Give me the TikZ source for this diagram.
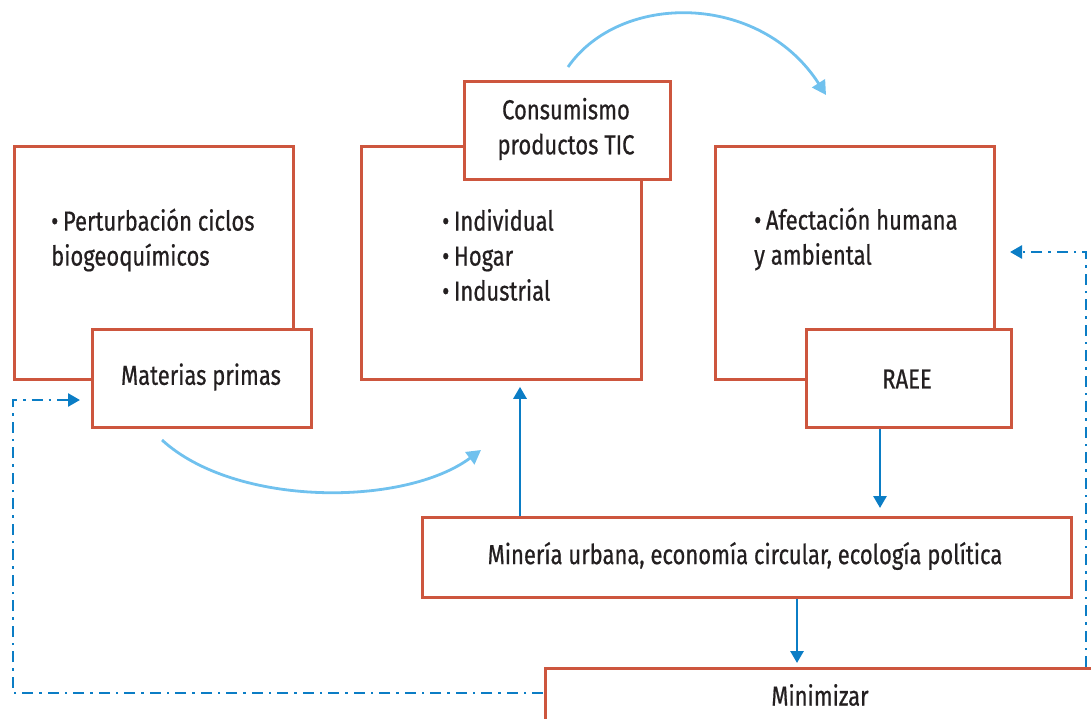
\documentclass[tikz,border=0pt]{standalone}
\usepackage{fontspec}
\setmainfont{Fira Sans}[FakeStretch=0.80,FakeBold=0.6]
\usetikzlibrary{arrows.meta}
\definecolor{boxred}{RGB}{205,86,62}
\definecolor{darkblue}{RGB}{11,125,197}
\definecolor{lightblue}{RGB}{112,193,238}
\definecolor{txt}{RGB}{35,31,32}
\tikzset{
  box/.style={draw=boxred, line width=2.8pt, fill=white, rectangle, inner sep=0pt},
  lbl/.style={text=txt, font=\fontsize{27.5}{35}\selectfont, inner sep=0pt},
  barrow/.style={draw=darkblue, line width=2.8pt, -{Triangle[length=12pt,width=13pt]}},
  larrow/.style={draw=lightblue, line width=2.8pt, -{Triangle[length=14pt,width=15pt]}},
  dd/.style={draw=darkblue, line width=2.6pt, dash pattern=on 11pt off 6pt on 2.5pt off 6pt, -{Triangle[length=12pt,width=13pt]}}
}
\begin{document}
\begin{tikzpicture}[x=1pt,y=-1pt]
\useasboundingbox (0,0) rectangle (1091,719);
\clip (0,0) rectangle (1091,719);
% big boxes
\node[box, minimum width=279pt, minimum height=233pt, anchor=north west] (b1) at (13,145) {};
\node[box, minimum width=280pt, minimum height=233pt, anchor=north west] (b2) at (360,145) {};
\node[box, minimum width=279pt, minimum height=233pt, anchor=north west] (b3) at (714,145) {};
% small boxes
\node[box, minimum width=219pt, minimum height=98pt, anchor=north west] (mp) at (91,328) {};
\node[lbl] (mpt) at (201,377) {Materias primas};
\node[box, minimum width=206pt, minimum height=98pt, anchor=north west] (cons) at (463,80) {};
\node[lbl, align=center] (const) at (566,129) {Consumismo\\productos TIC};
\node[box, minimum width=205pt, minimum height=98pt, anchor=north west] (raee) at (805,328) {};
\node[lbl] (raeet) at (907,379) {RAEE};
\node[box, minimum width=649pt, minimum height=80pt, anchor=north west] (min) at (421,516) {};
\node[lbl] (mint) at (745,556) {Minería urbana, economía circular, ecología política};
\node[box, minimum width=600pt, minimum height=120pt, anchor=north west] (minim) at (544,667) {};
\node[lbl] (minimt) at (820,695) {Minimizar};
% texts in big boxes
\node[lbl, align=left, anchor=west] (t1) at (51,240) {•\,Perturbación ciclos\\biogeoquímicos};
\node[lbl, align=left, anchor=west] (t2) at (442,255) {•\,Individual\\•\,Hogar\\•\,Industrial};
\node[lbl, align=left, anchor=west] (t3) at (754,239) {•\,Afectación humana\\y ambiental};
% coordinates
\coordinate (c1s) at (162,440);
\coordinate (c1e) at (481,450);
\coordinate (c2s) at (568,67);
\coordinate (c2e) at (826,95);
\coordinate (lA) at (543,693);
\coordinate (lB) at (13,693);
\coordinate (lC) at (13,400);
\coordinate (lD) at (80,400);
\coordinate (rA) at (1086,667);
\coordinate (rB) at (1086,252);
\coordinate (rC) at (1010,252);
% curved arrows
\draw[larrow] (c1s) .. controls (235,507) and (404,507) .. (c1e);
\draw[larrow] (c2s) .. controls (620,-8) and (760,-8) .. (c2e);
% blue arrows
\draw[barrow, shorten >=6pt] (min.north -| 520,0) -- (b2.south -| 520,0);
\draw[barrow, shorten >=8pt] (raee.south -| 880,0) -- (min.north -| 880,0);
\draw[barrow, shorten >=4pt] (min.south -| 797,0) -- (minim.north -| 797,0);
% dash-dot
\draw[dd] (lA) -- (lB) -- (lC) -- (lD);
\draw[dd] (rA) -- (rB) -- (rC);
\end{tikzpicture}
\end{document}
